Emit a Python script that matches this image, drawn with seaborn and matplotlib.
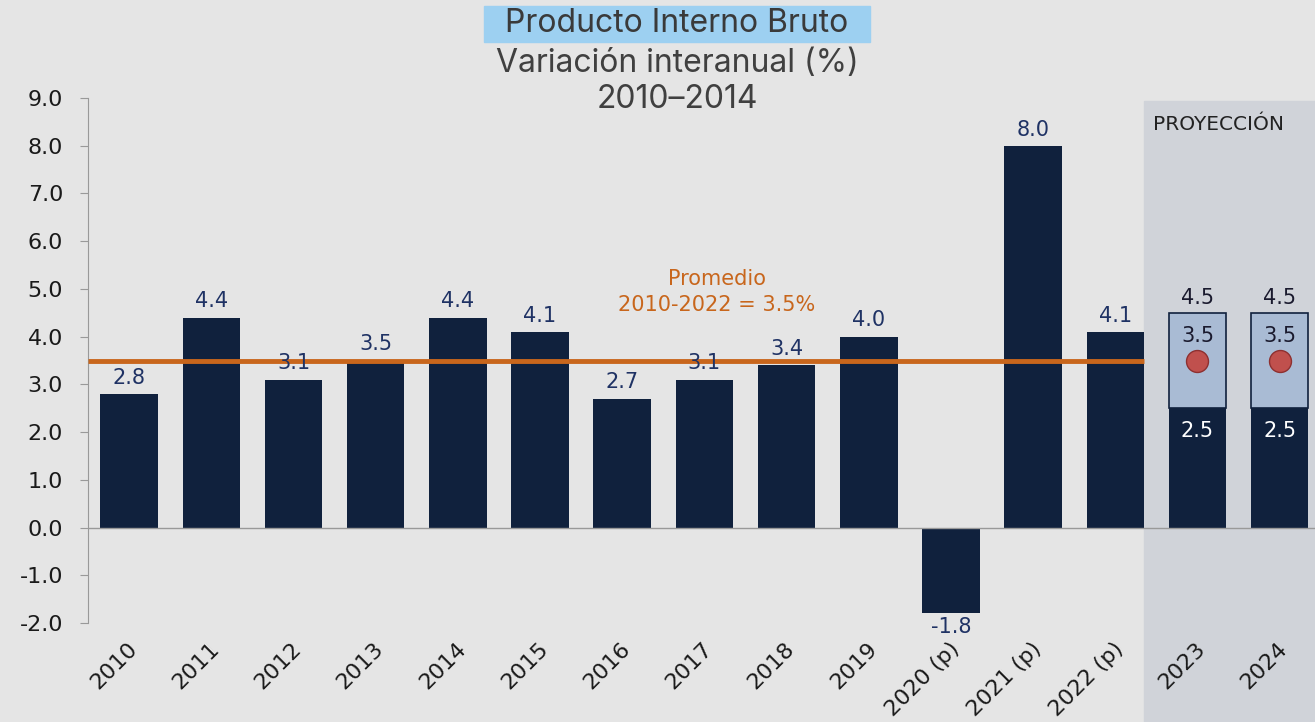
import matplotlib
matplotlib.use("Agg")
import matplotlib.pyplot as plt
import matplotlib.transforms as mtransforms
from matplotlib.patches import Rectangle
import seaborn as sns
import numpy as np

# data
years = ['2010', '2011', '2012', '2013', '2014', '2015', '2016', '2017', '2018', '2019',
         '2020 (p)', '2021 (p)', '2022 (p)', '2023', '2024']
gdp = [2.8, 4.4, 3.1, 3.5, 4.4, 4.1, 2.7, 3.1, 3.4, 4.0, -1.8, 8.0, 4.1]
proj_years = ['2023', '2024']
proj_low = [2.5, 2.5]
proj_mid = [3.5, 3.5]
proj_high = [4.5, 4.5]
promedio = 3.5

# colours
bg = '#e5e5e5'
navy = '#10213d'
label_navy = '#1f3264'
orange = '#c8661c'
shade = '#d0d3d9'
box_blue = '#a9bbd4'

sns.set_style('white')
plt.rcParams['font.family'] = ['DejaVu Sans']

fig = plt.figure(figsize=(13.15, 7.22), dpi=100, facecolor=bg)
ax = fig.add_axes([88 / 1315, 99 / 722, 1 - 88 / 1315, 525 / 722])
ax.set_facecolor(bg)

bar_vals = gdp + proj_low
sns.barplot(x=years, y=bar_vals, color=navy, width=0.7, saturation=1, linewidth=0,
            ax=ax, zorder=3)

# projection range boxes
pos = [years.index(y) for y in proj_years]
ax.bar(pos, np.array(proj_high) - np.array(proj_low), bottom=proj_low, width=0.7,
       color=box_blue, edgecolor=navy, linewidth=1.2, zorder=3)
ax.scatter(pos, proj_mid, s=250, color='#c0504d', edgecolor='#8e3030', linewidth=1, zorder=5)

ax.set_xlim(-0.5, 14.43)
ax.set_ylim(-2, 9)

# shaded projection area (runs down into the tick label area)
trans = mtransforms.blended_transform_factory(ax.transData, ax.transAxes)
ax.add_patch(Rectangle((12.35, -0.2), 3, 1.195, transform=trans, color=shade,
                       zorder=0, clip_on=False))
ax.text(13.25, 8.45, 'PROYECCIÓN', ha='center', va='center', fontsize=14.5, color='#222222')

# average line
ax.hlines(promedio, -0.5, 12.35, color=orange, lw=3.5, zorder=4)
ax.text(7.15, 4.93, 'Promedio\n2010-2022 = 3.5%', ha='center', va='center', color=orange,
        fontsize=15, linespacing=1.35)

ax.axhline(0, color='#999999', lw=1, zorder=4)

# value labels
for i, v in enumerate(gdp):
    if v >= 0:
        ax.text(i, v + 0.13, f'{v:.1f}', ha='center', va='bottom', fontsize=15, color=label_navy, zorder=6)
    else:
        ax.text(i, v - 0.08, f'{v:.1f}', ha='center', va='top', fontsize=15, color=label_navy, zorder=6)
for p, lo, mid, hi in zip(pos, proj_low, proj_mid, proj_high):
    ax.text(p, hi + 0.1, f'{hi:.1f}', ha='center', va='bottom', fontsize=15, color='#1a1a2e', zorder=6)
    ax.text(p, hi - 0.27, f'{mid:.1f}', ha='center', va='top', fontsize=15, color='#1a1a2e', zorder=6)
    ax.text(p, lo - 0.27, f'{lo:.1f}', ha='center', va='top', fontsize=15, color='white', zorder=6)

# axes styling
for s in ['top', 'right', 'bottom']:
    ax.spines[s].set_visible(False)
ax.spines['left'].set_color('#999999')
ax.set_yticks(np.arange(-2, 10, 1))
ax.set_yticklabels([f'{t:.1f}' for t in np.arange(-2, 10, 1)])
ax.tick_params(axis='y', direction='out', length=6, color='#999999', labelsize=16,
               labelcolor='#1a1a1a', pad=12, left=True)
ax.tick_params(axis='x', length=0, labelsize=16, labelcolor='#1a1a1a', pad=16)
shift = mtransforms.ScaledTranslation(5 / 100, 0, fig.dpi_scale_trans)
for lab in ax.get_xticklabels():
    lab.set_rotation(45)
    lab.set_ha('right')
    lab.set_va('center')
    lab.set_rotation_mode('anchor')
    lab.set_transform(lab.get_transform() + shift)
ax.set_xlabel('')
ax.set_ylabel('')

# titles
fig.patches.append(Rectangle((484 / 1315, 1 - 42 / 722), 386 / 1315, 36 / 722,
                             transform=fig.transFigure, color='#9dd0f1', zorder=0))
fig.text(677 / 1315, 1 - 24 / 722, 'Producto Interno Bruto', ha='center', va='center',
         fontsize=23, color='#3a3a3a', family='Inter')
fig.text(677 / 1315, 1 - 63 / 722, 'Variación interanual (%)', ha='center', va='center',
         fontsize=23, color='#404040', family='Inter')
fig.text(677 / 1315, 1 - 100 / 722, '2010–2014', ha='center', va='center',
         fontsize=23, color='#404040', family='Inter')

fig.savefig('out.png', dpi=100, facecolor=bg)
